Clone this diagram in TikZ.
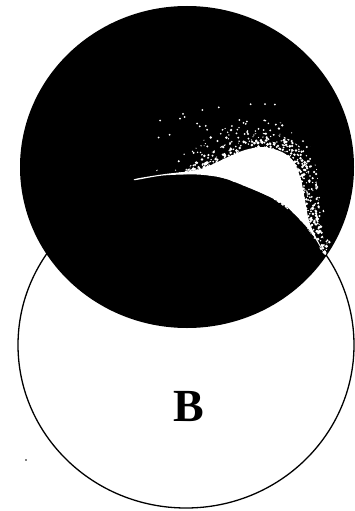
\documentclass[tikz,border=0pt]{standalone}
\usepackage{fontspec}
\setmainfont{Liberation Serif}
\definecolor{ink}{HTML}{000000}
\definecolor{paper}{HTML}{FFFFFF}

\begin{document}
\begin{tikzpicture}[x=1pt,y=-1pt,
  ring/.style={draw=ink,line width=1.3pt,fill=paper},
  disc/.style={fill=ink},
  glow/.style={fill=paper},
  speck/.style={fill=paper},
  lbl/.style={font=\fontsize{46}{50}\selectfont\bfseries,text=ink,inner sep=0pt}]
  \useasboundingbox[fill=paper] (0,0) rectangle (355,511);

  % ===== lower circle B =====
  \draw[ring] (186,345) ellipse [x radius=168, y radius=163];
  \node[lbl] (b) at (189,407) {B};
  \fill[ink] (26,460) circle (0.8);

  % ===== upper dark circle =====
  \fill[disc] (187,167) ellipse [x radius=167, y radius=161];

  % ===== bright crescent =====
  \fill[glow] plot[smooth cycle,tension=0.5] coordinates {(136,180) (163,175.5)
    (197,174.5) (223,178) (247,187) (270,197) (287,207) (303,223) (313,235)
    (324,253) (310,224) (305,200) (301,180) (294,162) (282,152) (263,147)
    (245,150) (228,157) (211,165) (195,170.5) (165,174) (137,178.5)};

  % ===== specks round the crescent =====
  \pgfmathsetseed{11}
  \begin{scope}
    \clip plot[smooth cycle] coordinates {(185,172) (210,160) (235,148) (262,141)
      (287,146) (303,160) (311,182) (316,210) (326,249) (323,253) (303,223)
      (270,197) (223,178) (197,174)};
    \foreach \k in {1,...,700}{
      \pgfmathsetmacro\px{185+142*rnd}
      \pgfmathsetmacro\py{140+115*rnd}
      \pgfmathsetmacro\pr{0.8+1.2*rnd}
      \fill[speck] (\px,\py) circle (\pr);
    }
  \end{scope}
  \begin{scope}
    \clip plot[smooth cycle] coordinates {(180,173) (205,156) (232,141) (258,133)
      (284,137) (305,152) (316,180) (320,210) (328,248) (323,253) (303,223)
      (270,197) (223,178) (197,174)};
    \foreach \k in {1,...,900}{
      \pgfmathsetmacro\px{180+150*rnd}
      \pgfmathsetmacro\py{131+124*rnd}
      \pgfmathsetmacro\pr{0.6+1.0*rnd}
      \fill[speck] (\px,\py) circle (\pr);
    }
  \end{scope}
  \begin{scope}
    \clip plot[smooth cycle] coordinates {(150,176) (197,143) (230,126) (257,118)
      (284,124) (308,142) (320,172) (324,207) (331,245) (323,253) (303,223)
      (270,197) (223,178) (180,173)};
    \foreach \k in {1,...,600}{
      \pgfmathsetmacro\px{150+182*rnd}
      \pgfmathsetmacro\py{116+139*rnd}
      \pgfmathsetmacro\pr{0.5+0.9*rnd}
      \fill[speck] (\px,\py) circle (\pr);
    }
  \end{scope}
  \foreach \k in {1,...,24}{
    \pgfmathsetmacro\px{147+135*rnd}
    \pgfmathsetmacro\py{103+40*rnd}
    \fill[speck] (\px,\py) circle (1);
  }
\end{tikzpicture}
\end{document}
